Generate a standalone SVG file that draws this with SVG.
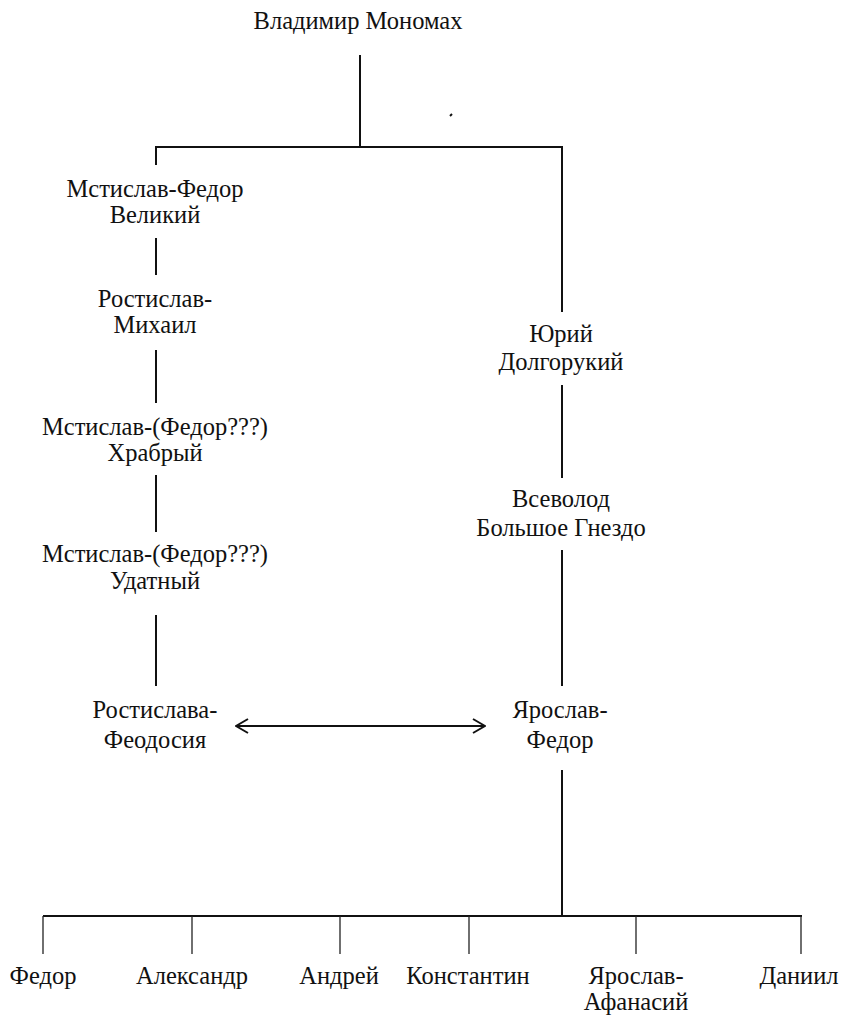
<svg xmlns="http://www.w3.org/2000/svg" width="842" height="1018" viewBox="0 0 842 1018">
<defs>
<style>
.t text{font-size:24.5px;fill:#111;text-anchor:middle}
.ln{stroke:#111;stroke-width:2;fill:none}
.tk{stroke:#222;stroke-width:1.3;fill:none}
</style>
<marker id="ah" viewBox="0 0 14 16" refX="13" refY="8" markerWidth="14" markerHeight="16" markerUnits="userSpaceOnUse" orient="auto-start-reverse">
<path d="M1,1 L13,8 L1,15" fill="none" stroke="#111" stroke-width="2"/>
</marker>
</defs>
<rect width="842" height="1018" fill="#fff"/>
<g id="connectors">
<line class="ln" x1="360" y1="55" x2="360" y2="147"/>
<line class="ln" x1="155" y1="147" x2="563" y2="147"/>
<line class="ln" x1="156" y1="146" x2="156" y2="165"/>
<line class="ln" x1="156" y1="238" x2="156" y2="275"/>
<line class="ln" x1="156" y1="350" x2="156" y2="403"/>
<line class="ln" x1="156" y1="475" x2="156" y2="532"/>
<line class="ln" x1="156" y1="615" x2="156" y2="686"/>
<line class="ln" x1="562" y1="146" x2="562" y2="312"/>
<line class="ln" x1="562" y1="385" x2="562" y2="478"/>
<line class="ln" x1="562" y1="550" x2="562" y2="686"/>
<line class="ln" x1="562" y1="770" x2="562" y2="917"/>
<line class="ln" x1="236" y1="726" x2="485" y2="726" marker-start="url(#ah)" marker-end="url(#ah)"/>
<line class="ln" x1="43" y1="916" x2="802" y2="916"/>
<line class="tk" x1="43" y1="916" x2="43" y2="954"/>
<line class="tk" x1="192" y1="916" x2="192" y2="954"/>
<line class="tk" x1="340" y1="916" x2="340" y2="954"/>
<line class="tk" x1="469" y1="916" x2="469" y2="954"/>
<line class="tk" x1="636" y1="916" x2="636" y2="954"/>
<line class="tk" x1="801" y1="916" x2="801" y2="954"/>
<line x1="450" y1="116" x2="452" y2="114" stroke="#111" stroke-width="2"/>
</g>
<g class="t" font-family="Liberation Serif, Times New Roman, serif">
<g id="n-vladimir"><text x="358" y="29">Владимир Мономах</text></g>
<g id="n-mstislav-fedor"><text x="155" y="197">Мстислав-Федор</text><text x="155" y="223">Великий</text></g>
<g id="n-rostislav"><text x="155" y="307">Ростислав-</text><text x="155" y="333">Михаил</text></g>
<g id="n-mstislav-khrabry"><text x="155" y="435">Мстислав-(Федор???)</text><text x="155" y="461">Храбрый</text></g>
<g id="n-mstislav-udatny"><text x="155" y="562">Мстислав-(Федор???)</text><text x="155" y="589">Удатный</text></g>
<g id="n-rostislava"><text x="155" y="718">Ростислава-</text><text x="155" y="748">Феодосия</text></g>
<g id="n-yury"><text x="561" y="342">Юрий</text><text x="561" y="370">Долгорукий</text></g>
<g id="n-vsevolod"><text x="561" y="507">Всеволод</text><text x="561" y="536">Большое Гнездо</text></g>
<g id="n-yaroslav"><text x="560" y="718">Ярослав-</text><text x="560" y="748">Федор</text></g>
<g id="n-fedor"><text x="43" y="984">Федор</text></g>
<g id="n-alexandr"><text x="192" y="984">Александр</text></g>
<g id="n-andrey"><text x="339" y="984">Андрей</text></g>
<g id="n-konstantin"><text x="468" y="984">Константин</text></g>
<g id="n-yaroslav-afanasy"><text x="636" y="984">Ярослав-</text><text x="636" y="1010">Афанасий</text></g>
<g id="n-daniil"><text x="799" y="984">Даниил</text></g>
</g>
</svg>
